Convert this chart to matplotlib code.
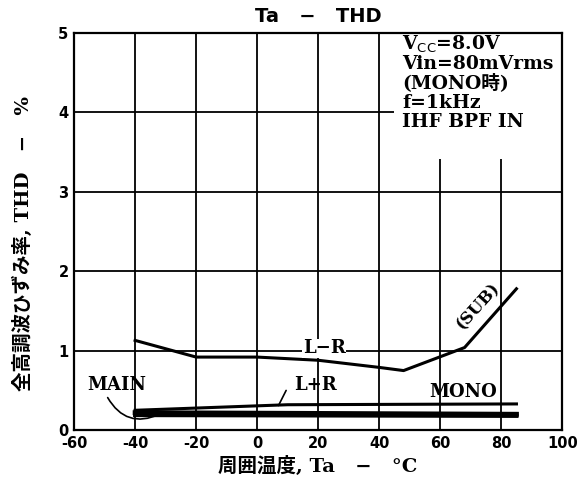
import matplotlib.pyplot as plt
from matplotlib.patches import Rectangle

# 周囲温度 [°C] と THD [%]
temp_lr = [-40, -20, 0, 20, 40, 48, 68, 85]
thd_lr = [1.13, 0.92, 0.92, 0.88, 0.79, 0.75, 1.04, 1.78]

temp_mono = [-40, 10, 85]
thd_mono = [0.25, 0.32, 0.33]

temp_main = [-40, 85]
thd_main = [0.22, 0.20]

temp_lpr = [-40, 85]
thd_lpr = [0.19, 0.18]

xticks = [-60, -40, -20, 0, 20, 40, 60, 80, 100]
yticks = [0, 1, 2, 3, 4, 5]

serif_jp = ['DejaVu Serif', 'Noto Sans CJK JP']

fig = plt.figure(figsize=(5.79, 4.79), dpi=100)
ax = fig.add_axes([0.128, 0.102, 0.843, 0.829])

ax.set_xlim(-60, 100)
ax.set_ylim(0, 5)
ax.set_xticks(xticks)
ax.set_yticks(yticks)
ax.set_xticklabels(['-60', '-40', '-20', '0', '20', '40', '60', '80', '100'],
                   fontweight='bold', fontsize=10.5)
ax.set_yticklabels([str(v) for v in yticks], fontweight='bold', fontsize=10.5)
ax.tick_params(length=0, pad=4)
ax.grid(True, color='black', linewidth=1.3)
for s in ax.spines.values():
    s.set_linewidth(1.6)

ax.plot(temp_lr, thd_lr, color='black', linewidth=2.2, zorder=3)
ax.plot(temp_mono, thd_mono, color='black', linewidth=2.2, zorder=3)
ax.plot(temp_main, thd_main, color='black', linewidth=3.5, zorder=3)
ax.plot(temp_lpr, thd_lpr, color='black', linewidth=3.0, zorder=3)

# 条件表示の白抜き領域
ax.add_patch(Rectangle((45, 3.42), 55, 1.58, facecolor='white',
                       edgecolor='none', zorder=2.5))
cond = ['V$_{\\mathrm{CC}}$=8.0V', 'Vin=80mVrms', '(MONO時)', 'f=1kHz', 'IHF BPF IN']
for i, line in enumerate(cond):
    ax.text(47.5, 4.86 - i * 0.245, line, family=serif_jp, fontweight='bold',
            fontsize=13.5, va='center', ha='left', zorder=4)

ax.text(22, 1.03, 'L−R', family=serif_jp, fontweight='bold', fontsize=13,
        ha='center', va='center', zorder=4,
        bbox=dict(facecolor='white', edgecolor='none', pad=0.5))
ax.text(67.5, 0.48, 'MONO', family=serif_jp, fontweight='bold', fontsize=13,
        ha='center', va='center', zorder=4)
ax.text(72.5, 1.56, '(SUB)', family=serif_jp, fontweight='bold', fontsize=12,
        ha='center', va='center', rotation=48, zorder=4)

# L+R と MAIN の引出線
ax.text(19, 0.57, 'L+R', family=serif_jp, fontweight='bold', fontsize=13,
        ha='center', va='center', zorder=4)
ax.annotate('', xy=(7, 0.31), xytext=(9.5, 0.5),
            arrowprops=dict(arrowstyle='-', color='black', lw=1.2,
                            shrinkA=0, shrinkB=0))
ax.text(-46, 0.57, 'MAIN', family=serif_jp, fontweight='bold', fontsize=13,
        ha='center', va='center', zorder=4)
ax.annotate('', xy=(-32, 0.2), xytext=(-49, 0.41),
            arrowprops=dict(arrowstyle='-', color='black', lw=1.2,
                            connectionstyle='arc3,rad=0.45',
                            shrinkA=0, shrinkB=0))

ax.set_title('Ta   −   THD', fontweight='bold', fontsize=14, pad=8)
ax.set_xlabel('周囲温度, Ta   −   °C', family=serif_jp, fontweight='bold',
              fontsize=14)
ax.set_ylabel('全高調波ひずみ率, THD   −   %', family=serif_jp,
              fontweight='bold', fontsize=14)
ax.xaxis.set_label_coords(0.5, -0.066)
ax.yaxis.set_label_coords(-0.084, 0.47)

fig.savefig('out.png', dpi=100)
